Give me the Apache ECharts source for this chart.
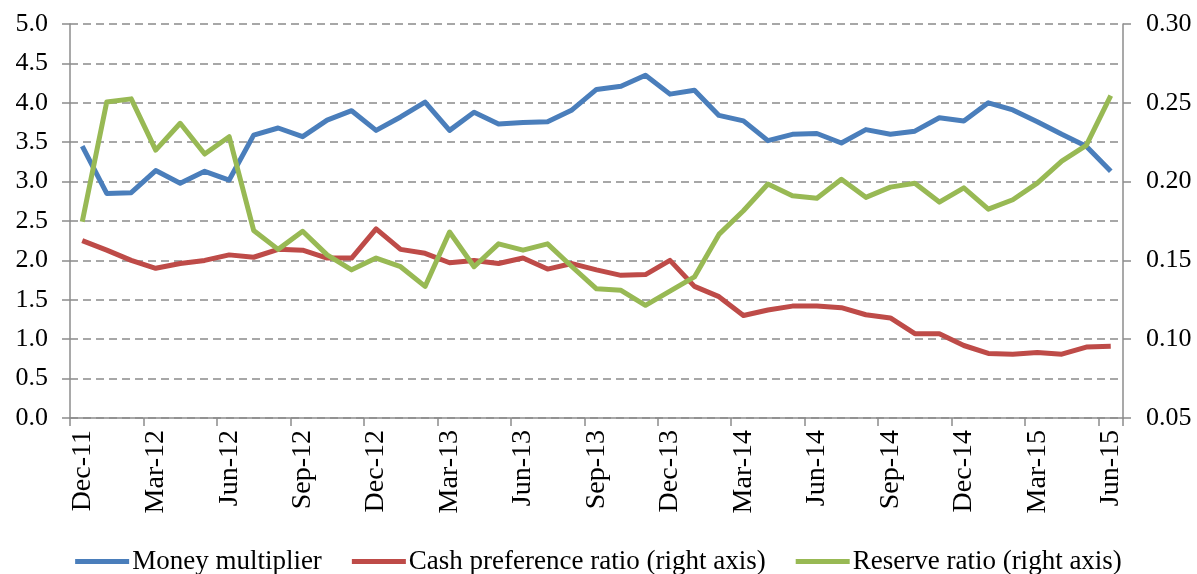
<!DOCTYPE html>
<html>
<head>
<meta charset="utf-8">
<script src="https://cdn.jsdelivr.net/npm/echarts@6/dist/echarts.min.js"></script>
<style>
html,body{margin:0;padding:0;background:#fff;}
#chart{width:1197px;height:574px;}
</style>
</head>
<body>
<div id="chart"></div>
<script>
var categories = ["Dec-11","Jan-12","Feb-12","Mar-12","Apr-12","May-12","Jun-12","Jul-12","Aug-12","Sep-12","Oct-12","Nov-12",
  "Dec-12","Jan-13","Feb-13","Mar-13","Apr-13","May-13","Jun-13","Jul-13","Aug-13","Sep-13","Oct-13","Nov-13",
  "Dec-13","Jan-14","Feb-14","Mar-14","Apr-14","May-14","Jun-14","Jul-14","Aug-14","Sep-14","Oct-14","Nov-14",
  "Dec-14","Jan-15","Feb-15","Mar-15","Apr-15","May-15","Jun-15"];

var moneyMultiplier = [3.45,2.85,2.86,3.14,2.98,3.13,3.02,3.59,3.68,3.57,3.78,3.90,
  3.65,3.82,4.01,3.65,3.88,3.73,3.75,3.76,3.91,4.17,4.21,4.35,
  4.11,4.16,3.84,3.77,3.52,3.60,3.61,3.49,3.66,3.60,3.64,3.81,
  3.77,4.00,3.91,3.76,3.60,3.45,3.13];

var cashPreference = [0.1625,0.1565,0.1500,0.1450,0.1480,0.1500,0.1535,0.1520,0.1570,0.1565,0.1515,0.1515,
  0.1700,0.1570,0.1545,0.1485,0.1500,0.1480,0.1515,0.1445,0.1480,0.1440,0.1405,0.1410,
  0.1500,0.1335,0.1270,0.1150,0.1185,0.1210,0.1210,0.1200,0.1155,0.1135,0.1035,0.1035,
  0.0960,0.0910,0.0905,0.0915,0.0905,0.0950,0.0955];

var reserveRatio = [0.1745,0.2505,0.2525,0.2200,0.2370,0.2175,0.2285,0.1690,0.1570,0.1685,0.1535,0.1440,
  0.1515,0.1460,0.1335,0.1680,0.1460,0.1605,0.1565,0.1605,0.1460,0.1320,0.1310,0.1215,
  0.1305,0.1395,0.1665,0.1815,0.1985,0.1910,0.1895,0.2015,0.1900,0.1965,0.1990,0.1870,
  0.1960,0.1825,0.1885,0.1990,0.2130,0.2230,0.2545];

var seriesNames = ["Money multiplier","Cash preference ratio (right axis)","Reserve ratio (right axis)"];

var FONT = '"Liberation Serif", "Times New Roman", serif';
var axisGray = '#8c8c8c';

var chart = echarts.init(document.getElementById('chart'), null, {renderer:'canvas'});
chart.setOption({
  animation: false,
  backgroundColor: '#ffffff',
  textStyle: {fontFamily: FONT},
  grid: {left: 70, right: 74, top: 24, bottom: 156, containLabel: false},
  legend: {
    top: 543,
    left: 'center',
    icon: 'rect',
    itemWidth: 54,
    itemHeight: 5,
    itemGap: 30,
    textStyle: {fontFamily: FONT, fontSize: 27, color: '#000', padding: [0,0,0,-2]},
    data: seriesNames
  },
  xAxis: {
    type: 'category',
    data: categories,
    boundaryGap: true,
    axisLine: {lineStyle: {color: axisGray, width: 1.5}},
    axisTick: {show: true, interval: 2, length: 8, lineStyle: {color: axisGray, width: 1.5}},
    axisLabel: {interval: 2, rotate: 90, margin: 12, fontFamily: FONT, fontSize: 28, color: '#000'},
    splitLine: {show: false}
  },
  yAxis: [
    {
      type: 'value', min: 0, max: 5, interval: 0.5, position: 'left',
      axisLine: {show: true, lineStyle: {color: axisGray, width: 1.5}},
      axisTick: {show: true, length: 8, inside: false, lineStyle: {color: axisGray, width: 1.5}},
      axisLabel: {margin: 22, fontFamily: FONT, fontSize: 26, color: '#000',
        formatter: function(v){ return v.toFixed(1); }},
      splitLine: {show: true, lineStyle: {color: '#8a8a8a', width: 1.5, type: [8,5]}}
    },
    {
      type: 'value', min: 0.05, max: 0.30, interval: 0.05, position: 'right',
      axisLine: {show: true, lineStyle: {color: axisGray, width: 1.5}},
      axisTick: {show: true, length: 8, inside: false, lineStyle: {color: axisGray, width: 1.5}},
      axisLabel: {margin: 23, fontFamily: FONT, fontSize: 26, color: '#000',
        formatter: function(v){ return v.toFixed(2); }},
      splitLine: {show: false}
    }
  ],
  series: [
    {name: seriesNames[0], type: 'line', yAxisIndex: 0, data: moneyMultiplier,
      showSymbol: false, symbol: 'none', lineStyle: {color: '#4a7ebb', width: 5, join: 'round'}, itemStyle: {color: '#4a7ebb'}},
    {name: seriesNames[1], type: 'line', yAxisIndex: 1, data: cashPreference,
      showSymbol: false, symbol: 'none', lineStyle: {color: '#be4b48', width: 5, join: 'round'}, itemStyle: {color: '#be4b48'}},
    {name: seriesNames[2], type: 'line', yAxisIndex: 1, data: reserveRatio,
      showSymbol: false, symbol: 'none', lineStyle: {color: '#98b954', width: 5, join: 'round'}, itemStyle: {color: '#98b954'}}
  ]
});
</script>
</body>
</html>
